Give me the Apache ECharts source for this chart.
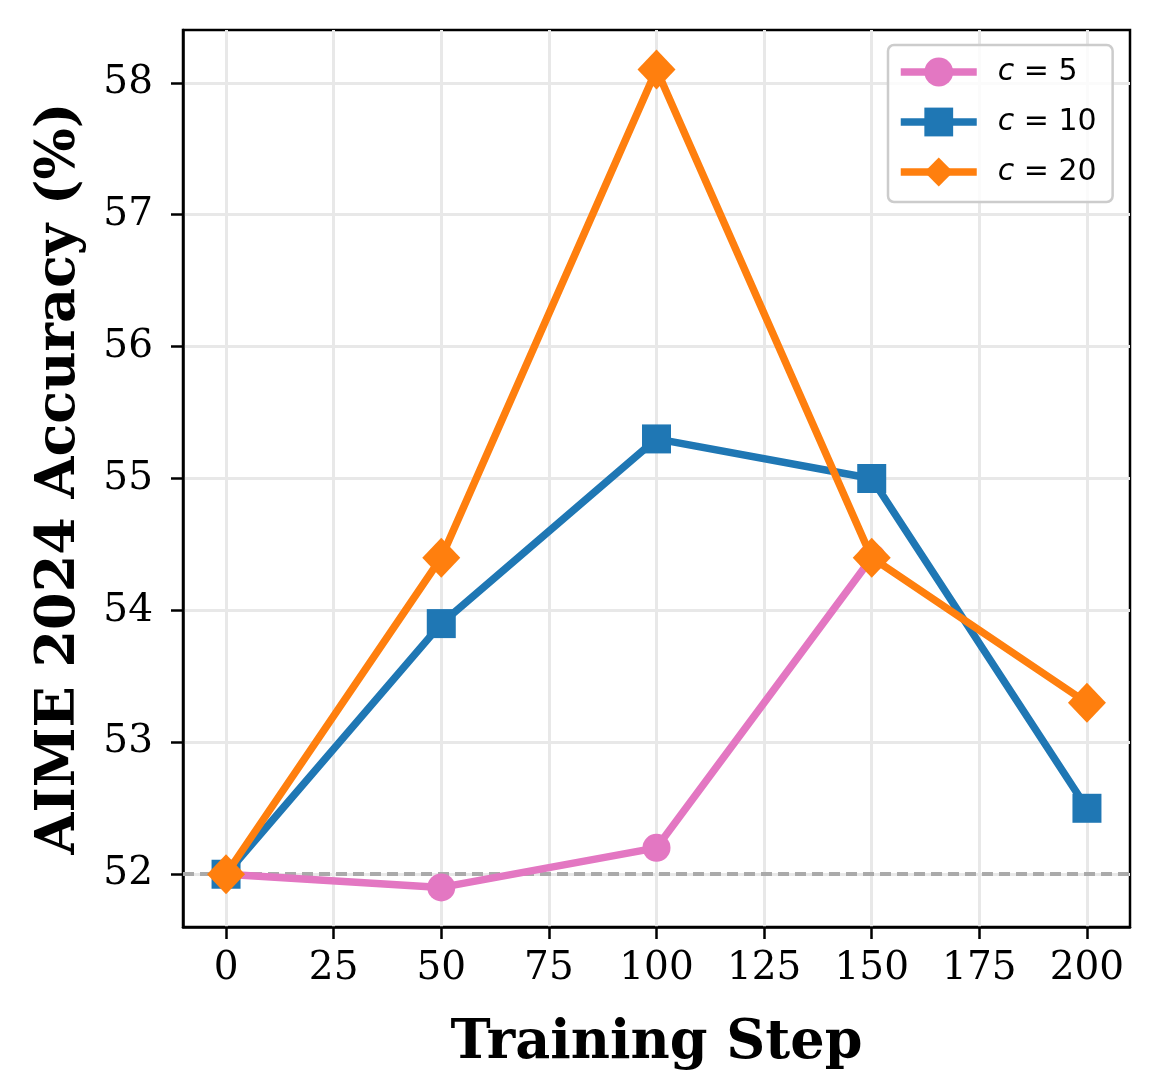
<!DOCTYPE html>
<html>
<head>
<meta charset="utf-8">
<script src="https://cdn.jsdelivr.net/npm/echarts@6/dist/echarts.min.js"></script>
<style>
  html, body { margin: 0; padding: 0; background: #fff; }
  #chart { width: 1160px; height: 1070px; }
</style>
</head>
<body>
<div id="chart"></div>
<script>
const steps = [0, 50, 100, 150, 200];
const seriesNames = ['c = 5', 'c = 10', 'c = 20'];
const accC5 = [52.0, 51.9, 52.2, 54.4];
const accC10 = [52.0, 53.9, 55.3, 55.0, 52.5];
const accC20 = [52.0, 54.4, 58.1, 54.4, 53.3];
const baseline = 52.0;
const xTicks = [0, 25, 50, 75, 100, 125, 150, 175, 200];
const yTicks = [52, 53, 54, 55, 56, 57, 58];

const colors = ['#e377c2', '#1f77b4', '#ff7f0e'];
const symbols = ['circle', 'rect', 'diamond'];
const symbolSizes = [28, 29, [38, 40]];
const allValues = [accC5, accC10, accC20];

const chart = echarts.init(document.getElementById('chart'));

function pairs(vals) {
  return vals.map((v, i) => [steps[i], v]);
}

const series = allValues.map((vals, i) => ({
  name: seriesNames[i],
  type: 'line',
  data: pairs(vals),
  symbol: symbols[i],
  symbolSize: symbolSizes[i],
  showAllSymbol: true,
  z: 3 + i,
  lineStyle: { color: colors[i], width: 7.5 },
  itemStyle: { color: colors[i] },
  emphasis: { disabled: true },
  animation: false
}));

series[0].markLine = {
  silent: true,
  symbol: 'none',
  label: { show: false },
  lineStyle: { color: '#aaaaaa', type: [11, 6], width: 4 },
  emphasis: { disabled: true },
  z: 1,
  data: [{ yAxis: baseline }]
};

const option = {
  backgroundColor: '#fff',
  animation: false,
  grid: {
    left: 183, right: 30, top: 30, bottom: 143,
    outerBoundsMode: 'none',
    containLabel: false,
    show: true, borderColor: '#000', borderWidth: 2.5, backgroundColor: 'transparent'
  },
  legend: {
    orient: 'vertical',
    left: 888, top: 45,
    itemWidth: 76, itemHeight: 36, itemGap: 14,
    padding: [9, 16, 12, 9],
    backgroundColor: 'rgba(255,255,255,0.8)',
    borderColor: '#cccccc', borderWidth: 2.5, borderRadius: 6,
    data: seriesNames,
    lineStyle: { width: 7.5 },
    formatter: (name) => '{s|}{i|c}' + name.slice(1),
    textStyle: {
      fontFamily: 'DejaVu Sans', fontSize: 30, color: '#000', lineHeight: 36,
      rich: {
        s: { width: 16 },
        i: { fontStyle: 'italic', fontFamily: 'DejaVu Sans', fontSize: 30 }
      }
    }
  },
  xAxis: {
    type: 'value',
    min: -10, max: 210,
    minInterval: 25, maxInterval: 25,
    name: 'Training Step',
    nameLocation: 'middle',
    nameGap: 90,
    nameTextStyle: { fontFamily: 'DejaVu Serif', fontWeight: 'bold', fontSize: 54, color: '#000' },
    axisLine: { show: true, onZero: false, lineStyle: { color: '#000', width: 2.5 } },
    axisTick: { show: true, length: 12, lineStyle: { color: '#000', width: 2.5 }, customValues: xTicks },
    axisLabel: { fontFamily: 'DejaVu Serif', fontSize: 39, color: '#000', margin: 22, customValues: xTicks },
    splitLine: { show: true, lineStyle: { color: '#e8e8e8', width: 3 } }
  },
  yAxis: {
    type: 'value',
    min: 51.6, max: 58.4,
    minInterval: 1, maxInterval: 1,
    name: 'AIME 2024 Accuracy (%)',
    nameLocation: 'middle',
    nameGap: 96,
    nameTextStyle: { fontFamily: 'DejaVu Serif', fontWeight: 'bold', fontSize: 54, color: '#000' },
    axisLine: { show: true, onZero: false, lineStyle: { color: '#000', width: 2.5 } },
    axisTick: { show: true, length: 12, lineStyle: { color: '#000', width: 2.5 }, customValues: yTicks },
    axisLabel: { fontFamily: 'DejaVu Serif', fontSize: 39, color: '#000', margin: 30, customValues: yTicks },
    splitLine: { show: true, lineStyle: { color: '#e8e8e8', width: 3 } }
  },
  series: series
};

chart.setOption(option);
</script>
</body>
</html>
